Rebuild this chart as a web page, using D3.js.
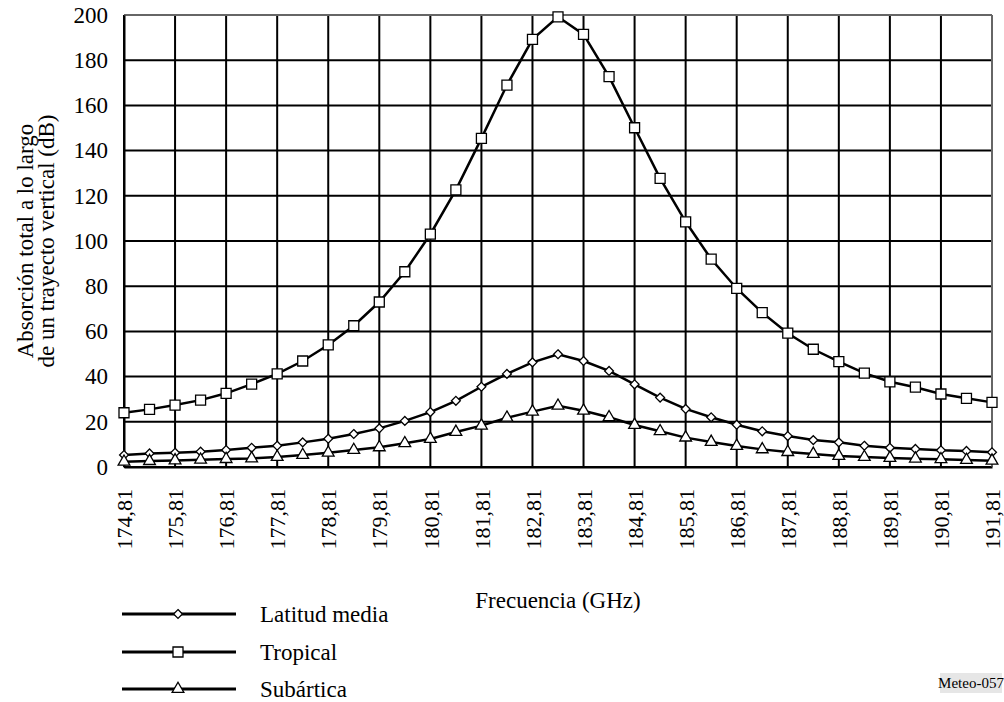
<!DOCTYPE html>
<html>
<head>
<meta charset="utf-8">
<script src="https://cdn.jsdelivr.net/npm/d3@7/dist/d3.min.js"></script>
<style>
  html, body { margin: 0; padding: 0; background: #fff; }
  svg { display: block; }
</style>
</head>
<body>
<svg id="chart" width="1004" height="702"></svg>
<script>
// Frequencies (GHz), sampled every 0.5 GHz around the 183.31 GHz water-vapour line
const frequencies = [
  174.81, 175.31, 175.81, 176.31, 176.81, 177.31, 177.81, 178.31, 178.81, 179.31,
  179.81, 180.31, 180.81, 181.31, 181.81, 182.31, 182.81, 183.31, 183.81, 184.31,
  184.81, 185.31, 185.81, 186.31, 186.81, 187.31, 187.81, 188.31, 188.81, 189.31,
  189.81, 190.31, 190.81, 191.31, 191.81
];

// Total zenith absorption (dB) for each reference atmosphere
const latitudMedia = [
  5.3, 6.0, 6.3, 6.8, 7.5, 8.5, 9.4, 10.9, 12.5, 14.6,
  17.1, 20.4, 24.3, 29.3, 35.5, 41.2, 46.3, 49.9, 46.9, 42.5,
  36.6, 30.7, 25.7, 22.0, 18.7, 15.8, 13.7, 11.9, 10.9, 9.4,
  8.5, 8.0, 7.4, 7.1, 6.5
];
const tropical = [
  24.0, 25.5, 27.4, 29.6, 32.6, 36.7, 41.2, 46.9, 54.0, 62.5,
  73.0, 86.4, 103.0, 122.6, 145.4, 169.0, 189.2, 199.2, 191.4, 172.7,
  150.1, 127.7, 108.5, 92.0, 79.0, 68.3, 59.2, 52.1, 46.6, 41.5,
  37.7, 35.3, 32.3, 30.4, 28.6
];
const subartica = [
  2.3, 2.6, 2.9, 3.2, 3.5, 3.8, 4.4, 5.3, 6.3, 7.5,
  8.7, 10.5, 12.4, 15.5, 18.3, 21.8, 24.5, 27.1, 24.9, 22.0,
  18.6, 15.8, 13.0, 11.1, 9.3, 7.8, 6.6, 5.8, 4.9, 4.4,
  4.0, 3.7, 3.4, 3.1, 2.8
];

// Axis ticks
const xTicks = [174.81, 175.81, 176.81, 177.81, 178.81, 179.81, 180.81, 181.81, 182.81,
                183.81, 184.81, 185.81, 186.81, 187.81, 188.81, 189.81, 190.81, 191.81];
const yTicks = [0, 20, 40, 60, 80, 100, 120, 140, 160, 180, 200];

const seriesNames = ["Latitud media", "Tropical", "Subártica"];
const seriesValues = [latitudMedia, tropical, subartica];
const seriesMarkers = ["diamond", "square", "triangle"];

const svg = d3.select("#chart");
const margin = { left: 124, right: 1004 - 992, top: 15, bottom: 702 - 467 };
const W = 1004, H = 702;

const x = d3.scaleLinear().domain([174.81, 191.81]).range([margin.left, W - margin.right]);
const y = d3.scaleLinear().domain([0, 200]).range([H - margin.bottom, margin.top]);

const fmt = v => v.toFixed(2).replace(".", ",");
const serif = "Liberation Serif";

// Grid
const grid = svg.append("g");
grid.selectAll("line.v").data(xTicks).join("line")
  .attr("x1", d => x(d)).attr("x2", d => x(d))
  .attr("y1", y(0)).attr("y2", y(200))
  .attr("stroke", "#000").attr("stroke-width", 2);
grid.selectAll("line.h").data(yTicks).join("line")
  .attr("x1", x(174.81)).attr("x2", x(191.81))
  .attr("y1", d => y(d)).attr("y2", d => y(d))
  .attr("stroke", "#000").attr("stroke-width", 2);

// Frame: top/right edges lighter
svg.append("line").attr("x1", x(174.81)).attr("x2", x(191.81)).attr("y1", y(200)).attr("y2", y(200))
  .attr("stroke", "#666").attr("stroke-width", 2);
svg.append("line").attr("x1", x(191.81)).attr("x2", x(191.81)).attr("y1", y(0)).attr("y2", y(200))
  .attr("stroke", "#666").attr("stroke-width", 2);

// Axes (labels only; the grid provides the lines)
const xAxis = svg.append("g").attr("transform", `translate(0,${y(0)})`)
  .call(d3.axisBottom(x).tickValues(xTicks).tickFormat(fmt).tickSize(0));
xAxis.select(".domain").attr("stroke", "#000").attr("stroke-width", 2);
xAxis.selectAll("text")
  .attr("font-size", 22).attr("fill", "#000")
  .attr("text-anchor", "end")
  .attr("transform", "rotate(-90)")
  .attr("x", -22).attr("y", 0).attr("dy", "0.35em");

const yAxis = svg.append("g").attr("transform", `translate(${x(174.81)},0)`)
  .call(d3.axisLeft(y).tickValues(yTicks).tickFormat(d3.format("d")).tickSize(0).tickPadding(16));
yAxis.select(".domain").attr("stroke", "#000").attr("stroke-width", 2);
yAxis.selectAll("text").attr("font-size", 23).attr("fill", "#000");

// Lines
const line = d3.line().x((d, i) => x(frequencies[i])).y(d => y(d));
const symbolFor = {
  diamond: d3.symbol().type(d3.symbolDiamond2).size(50),
  square: d3.symbol().type(d3.symbolSquare).size(100),
  triangle: d3.symbol().type(d3.symbolTriangle).size(60)
};

seriesValues.forEach((vals, s) => {
  svg.append("path").datum(vals)
    .attr("d", line).attr("fill", "none")
    .attr("stroke", "#000").attr("stroke-width", 2.5);
});
seriesValues.forEach((vals, s) => {
  svg.append("g").selectAll("path").data(vals).join("path")
    .attr("transform", (d, i) => `translate(${x(frequencies[i])},${y(d)})`)
    .attr("d", symbolFor[seriesMarkers[s]]())
    .attr("fill", "#fff").attr("stroke", "#000").attr("stroke-width", 1.3);
});

// Axis titles
svg.append("text").attr("x", (x(174.81) + x(191.81)) / 2).attr("y", 608)
  .attr("text-anchor", "middle").attr("font-size", 23).text("Frecuencia (GHz)");

const yt = svg.append("text").attr("transform", `translate(0,${(y(0) + y(200)) / 2}) rotate(-90)`)
  .attr("text-anchor", "middle").attr("font-size", 23);
yt.append("tspan").attr("x", 0).attr("y", 33).text("Absorción total a lo largo");
yt.append("tspan").attr("x", 0).attr("y", 54).text("de un trayecto vertical (dB)");

// Legend
const legendY = [614, 652, 689];
const legend = svg.append("g");
seriesNames.forEach((name, s) => {
  const g = legend.append("g").attr("transform", `translate(0,${legendY[s]})`);
  g.append("line").attr("x1", 122).attr("x2", 236).attr("y1", 0).attr("y2", 0)
    .attr("stroke", "#000").attr("stroke-width", 3);
  g.append("path").attr("transform", "translate(178,0)")
    .attr("d", symbolFor[seriesMarkers[s]]())
    .attr("fill", "#fff").attr("stroke", "#000").attr("stroke-width", 1.3);
  g.append("text").attr("x", 260).attr("y", 0).attr("dy", "0.35em")
    .attr("font-size", 23).text(name);
});

// Figure reference tag
svg.append("rect").attr("x", 940).attr("y", 673).attr("width", 62).attr("height", 20).attr("fill", "#e6e6e6");
svg.append("text").attr("x", 971).attr("y", 683).attr("dy", "0.35em")
  .attr("text-anchor", "middle").attr("font-size", 15).text("Meteo-057");

// Serif typeface for every label
svg.selectAll("g").filter(function () { return this.hasAttribute("font-family"); })
  .attr("font-family", serif);
svg.selectAll("text").attr("font-family", serif);
</script>
</body>
</html>
